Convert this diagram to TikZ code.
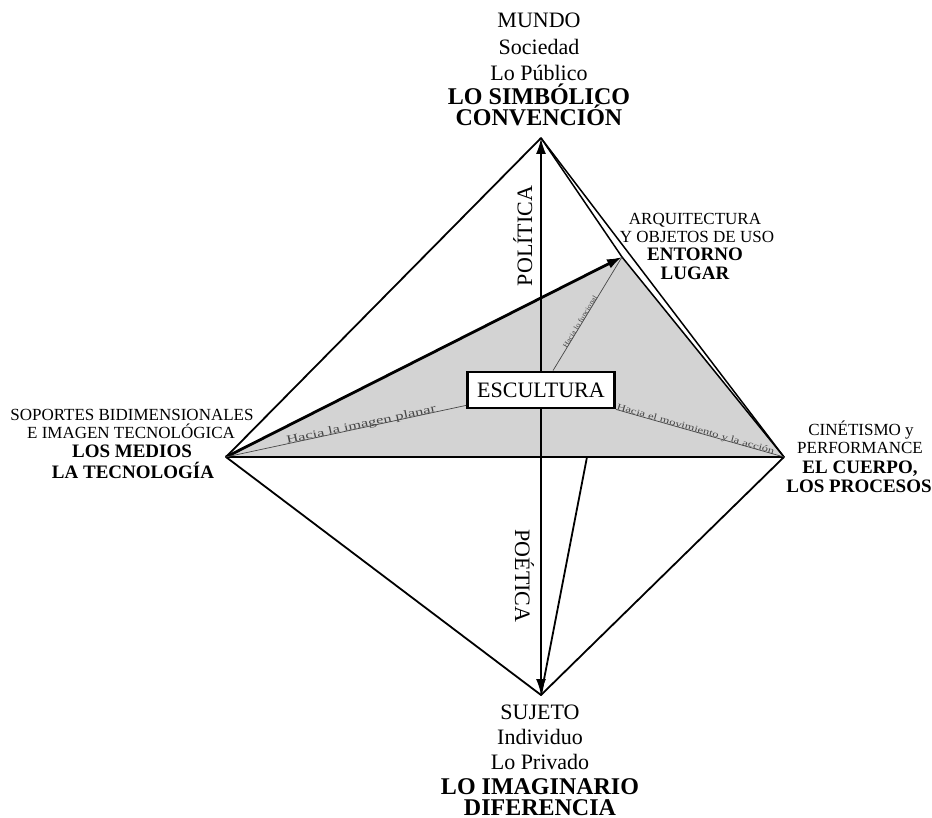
\documentclass[tikz,border=0pt]{standalone}
\usepackage{fontspec}
\usepackage{graphicx}
\setmainfont{Liberation Serif}
\usetikzlibrary{arrows.meta,calc}
\definecolor{facegray}{RGB}{211,211,211}
\definecolor{guide}{RGB}{70,70,70}
\begin{document}
\begin{tikzpicture}[x=1pt,y=-1pt,
  edge/.style={line width=1.8pt, line cap=round},
  heavy/.style={line width=2.8pt},
  twin/.style={line width=1.5pt},
  bigarrow/.style={line width=2.2pt, -{Latex[length=16pt,width=10pt]}},
  tiparrow/.style={line width=2.8pt, -{Latex[length=15pt,width=10pt]}},
  guideline/.style={guide, line width=0.7pt},
  gtext/.style={sloped, anchor=base, inner sep=0.5pt, text=guide},
  escbox/.style={draw, line width=2.8pt, fill=white, minimum width=147pt, minimum height=36pt, inner sep=0pt, font=\fontsize{22}{22}\selectfont},
  big/.style={anchor=base, inner sep=0pt, font=\fontsize{22}{22}\selectfont},
  bigb/.style={anchor=base, inner sep=0pt, font=\fontsize{24}{24}\selectfont\bfseries},
  side/.style={anchor=base, inner sep=0pt, font=\fontsize{17}{17}\selectfont},
  sideb/.style={anchor=base, inner sep=0pt, font=\fontsize{19}{19}\selectfont\bfseries},
  vlabel/.style={anchor=base, inner sep=0pt, font=\fontsize{22}{22}\selectfont}
]
\useasboundingbox (0,0) rectangle (932,818);
\coordinate (T) at (541,138);
\coordinate (L) at (226,457);
\coordinate (R) at (784,457);
\coordinate (B) at (541,695);
\coordinate (A) at (622,257);
\coordinate (P) at (587,457);

% gray face
\fill[facegray] (L) -- (A) -- (R) -- cycle;

% outer edges
\draw[edge] (L) -- (T);
\draw[edge] (L) -- (B);
\draw[edge] (B) -- (R);
\draw[twin] (T) -- (R);
\draw[twin] (T) -- (A) -- (R);
\draw[heavy] (L) -- (R);
\draw[edge] (B) -- (P);
\draw[tiparrow] (L) -- (A);

% central box
\node[escbox] (esc) at (541,390) {ESCULTURA};

% guide lines
\draw[guideline] (L) -- node[gtext, pos=0.566, font=\fontsize{11}{11}\selectfont] (gl) {\scalebox{1.5}[1]{Hacia la imagen planar}} ($(esc.south west)+(0,-4)$);
\draw[guideline] (esc.south east) -- node[gtext, pos=0.47, font=\fontsize{9}{9}\selectfont] (gr) {\scalebox{1.4}[1]{Hacia el movimiento y la acción}} (R);
\draw[guideline] ($(esc.north)+(12,0)$) -- node[gtext, pos=0.42, font=\fontsize{7}{7}\selectfont] (gu) {\scalebox{1.15}[1]{Hacia lo funcional}} (A);

% vertical arrows
\draw[bigarrow] (esc.north) -- (T);
\draw[bigarrow] (esc.south) -- (B);

% axis labels
\node[vlabel, rotate=90] (pol) at (532,236) {POLÍTICA};
\node[vlabel, rotate=-90] (poe) at (515,576) {POÉTICA};

% top label
\node[big] (t1) at (539,28) {MUNDO};
\node[big] (t2) at (539,55) {Sociedad};
\node[big] (t3) at (539,81) {Lo Público};
\node[bigb] (t4) at (539,105) {LO SIMBÓLICO};
\node[bigb] (t5) at (539,126) {CONVENCIÓN};

% bottom label
\node[big] (b1) at (540,719) {SUJETO};
\node[big] (b2) at (540,744) {Individuo};
\node[big] (b3) at (540,769) {Lo Privado};
\node[bigb] (b4) at (540,794) {LO IMAGINARIO};
\node[bigb] (b5) at (540,815) {DIFERENCIA};

% left label
\node[side] (l1) at (132,420) {SOPORTES BIDIMENSIONALES};
\node[side] (l2) at (131,438) {E IMAGEN TECNOLÓGICA};
\node[sideb] (l3) at (132,457) {LOS MEDIOS};
\node[sideb] (l4) at (133,478) {LA TECNOLOGÍA};

% right label
\node[side] (r1) at (861,435) {CINÉTISMO y};
\node[side] (r2) at (860,453) {PERFORMANCE};
\node[sideb] (r3) at (860,473) {EL CUERPO,};
\node[sideb] (r4) at (859,492) {LOS PROCESOS};

% architecture label
\node[side] (a1) at (695,225) {ARQUITECTURA};
\node[side] (a2) at (697,243) {Y OBJETOS DE USO};
\node[sideb] (a3) at (695,261) {ENTORNO};
\node[sideb] (a4) at (695,280) {LUGAR};
\end{tikzpicture}
\end{document}
